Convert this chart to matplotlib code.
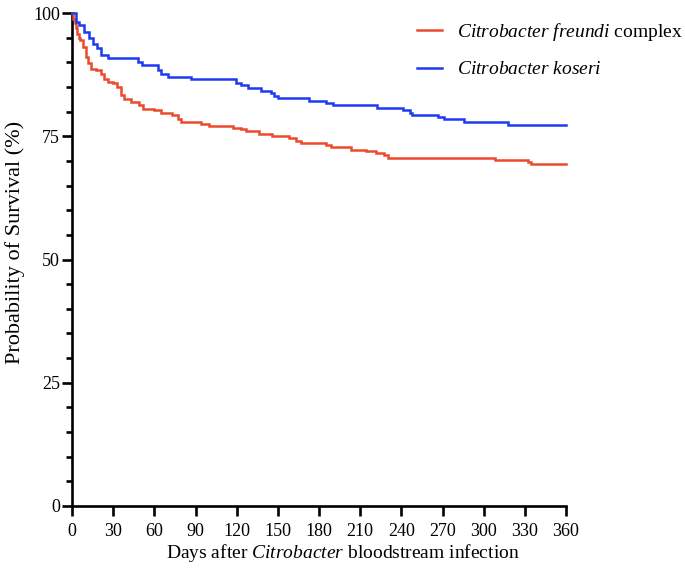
import matplotlib
matplotlib.use("Agg")
import matplotlib.pyplot as plt
from matplotlib.lines import Line2D
from matplotlib.ticker import MultipleLocator

# Kaplan-Meier step data
days_freundi = [0, 1, 2, 3, 4, 5, 6, 8, 10, 12, 14, 17.5, 21, 23.5, 26, 29.6, 33, 35.7, 38, 43,
                49, 51.5, 60, 65, 73, 77, 79.5, 94, 100, 117, 123, 127, 136.5, 146, 158, 163, 167,
                185, 189, 203, 214, 221.5, 227.5, 230, 308, 332, 334.5, 360]
surv_freundi = [100, 98.8, 97.9, 97, 95.8, 95, 94.5, 93.1, 91.1, 89.8, 88.7, 88.4, 87.7, 86.7, 86.0,
                85.7, 85.0, 83.3, 82.5, 82.0, 81.3, 80.6, 80.3, 79.8, 79.3, 78.6, 77.9, 77.5, 77.1,
                76.7, 76.4, 76.0, 75.4, 75.0, 74.6, 74.1, 73.7, 73.2, 72.8, 72.3, 72.0, 71.7, 71.2,
                70.6, 70.2, 69.8, 69.3, 69.3]

days_koseri = [0, 3, 5, 9, 12.5, 15, 18.5, 21, 26, 48, 51, 62.5, 65, 70, 87, 119.5, 123, 128, 138,
               145, 147.5, 150, 173, 185, 190, 222.5, 241, 246, 248, 266.5, 271, 286, 317.5, 360]
surv_koseri = [100, 98.2, 97.5, 96.2, 95, 93.8, 92.8, 91.4, 90.8, 90.1, 89.4, 88.4, 87.7, 87.0, 86.6,
               85.8, 85.4, 84.7, 84.2, 83.7, 83.1, 82.7, 82.2, 81.8, 81.3, 80.8, 80.3, 79.8, 79.3,
               79.0, 78.4, 77.9, 77.3, 77.3]

x_ticks = list(range(0, 361, 30))
y_ticks = [0, 25, 50, 75, 100]

plt.rcParams['font.family'] = ['Liberation Serif', 'DejaVu Serif']
plt.rcParams['mathtext.fontset'] = 'custom'
plt.rcParams['mathtext.it'] = 'Liberation Serif:italic'
plt.rcParams['mathtext.rm'] = 'Liberation Serif'

RED = '#EC4A2C'
BLUE = '#1F3BF2'

W, H = 685, 576
fig = plt.figure(figsize=(W/100, H/100), dpi=100)
ax = fig.add_axes([72/W, 1 - 506/H, (566-72)/W, (506-13)/H])

ax.plot(days_freundi, surv_freundi, drawstyle='steps-post', color=RED, lw=1.8,
        solid_joinstyle='miter', clip_on=False, zorder=3)
ax.plot(days_koseri, surv_koseri, drawstyle='steps-post', color=BLUE, lw=1.8,
        solid_joinstyle='miter', clip_on=False, zorder=3)

ax.set_xlim(0, 360)
ax.set_ylim(0, 100)
ax.set_xticks(x_ticks)
ax.set_yticks(y_ticks)
ax.yaxis.set_minor_locator(MultipleLocator(5))
for s in ['top', 'right']:
    ax.spines[s].set_visible(False)
for s in ['left', 'bottom']:
    ax.spines[s].set_linewidth(1.9)
    ax.spines[s].set_color('black')
ax.tick_params(axis='both', which='major', length=7.2, width=1.9, labelsize=13, direction='out')
ax.tick_params(axis='x', which='major', pad=5)
ax.tick_params(axis='y', which='major', pad=1.5)
ax.tick_params(axis='y', which='minor', length=4, width=1.9, direction='out')

fig.text(343/W, 1 - 553/H, r'Days after $\it{Citrobacter}$ bloodstream infection',
         fontsize=14, ha='center', va='center')
fig.text(15/W, 1 - 242/H, 'Probability of Survival (%)', fontsize=16, rotation=90,
         ha='center', va='center')

handles = [Line2D([], [], color=RED, lw=1.8), Line2D([], [], color=BLUE, lw=1.8)]
labels = [r'$\it{Citrobacter\ freundi}$ complex', r'$\it{Citrobacter\ koseri}$']
fig.legend(handles, labels, loc='upper left', bbox_to_anchor=(417/W, 1 - 21/H),
           frameon=False, fontsize=14, handlelength=1.3, handletextpad=0.75, labelspacing=0.92,
           borderaxespad=0, borderpad=0)

fig.savefig('out.png', dpi=100)
